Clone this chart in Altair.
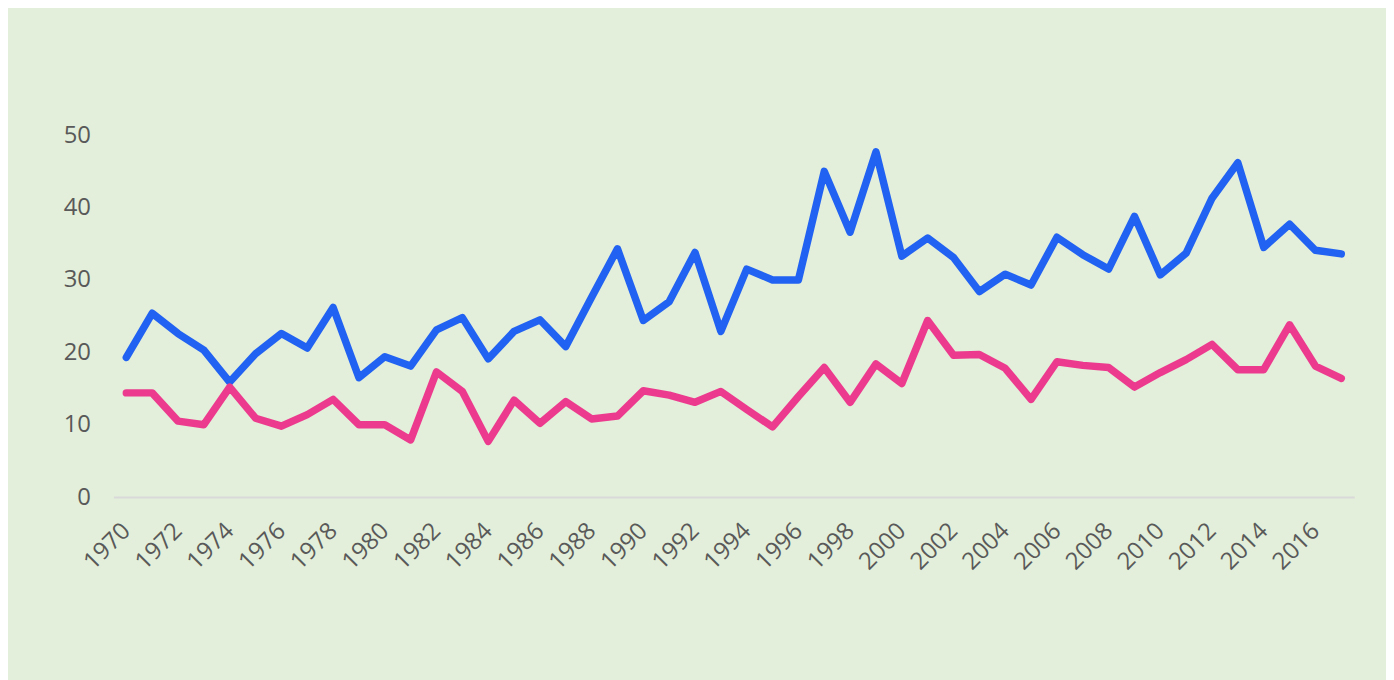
import altair as alt
import pandas as pd

years = list(range(1970, 2018))
blue = [19.3, 25.4, 22.6, 20.3, 15.9, 19.8, 22.6, 20.6, 26.2, 16.5,
        19.4, 18.1, 23.1, 24.8, 19.1, 22.9, 24.5, 20.8, 27.6, 34.3,
        24.4, 27.0, 33.8, 22.9, 31.5, 30.0, 30.0, 45.0, 36.6, 47.7,
        33.3, 35.8, 33.1, 28.4, 30.8, 29.3, 35.9, 33.5, 31.5, 38.8,
        30.7, 33.7, 41.3, 46.2, 34.5, 37.7, 34.1, 33.6]
pink = [14.4, 14.4, 10.5, 10.0, 15.2, 10.9, 9.8, 11.4, 13.5, 10.0,
        10.0, 7.9, 17.3, 14.6, 7.7, 13.4, 10.2, 13.2, 10.8, 11.2,
        14.7, 14.1, 13.1, 14.6, 12.1, 9.7, 13.9, 17.9, 13.1, 18.4,
        15.7, 24.4, 19.6, 19.7, 17.8, 13.5, 18.7, 18.2, 17.9, 15.2,
        17.2, 19.0, 21.1, 17.6, 17.6, 23.8, 18.1, 16.4]
series_names = ["Series 1", "Series 2"]
series_colors = ["#2262F2", "#EC3B8E"]
label_years = [y for y in years if y % 2 == 0]

df = pd.DataFrame({
    "year": years * 2,
    "value": blue + pink,
    "series": [series_names[0]] * len(years) + [series_names[1]] * len(years),
})

chart = alt.Chart(df).mark_line(
    strokeWidth=7.5, strokeCap="round", strokeJoin="round"
).encode(
    x=alt.X("year:O", sort=years,
            scale=alt.Scale(type="point", padding=0.5),
            axis=alt.Axis(title=None, values=label_years, labelAngle=-45,
                          labelAlign="right", labelBaseline="middle",
                          ticks=False, domain=True, domainColor="#D9D9D9",
                          domainWidth=2, labelPadding=30,
                          labelFont="Open Sans", labelFontSize=24,
                          labelColor="#595959", grid=False)),
    y=alt.Y("value:Q", scale=alt.Scale(domain=[0, 50], nice=False, zero=True),
            axis=alt.Axis(title=None, values=[0, 10, 20, 30, 40, 50],
                          ticks=False, domain=False, grid=False,
                          labelPadding=23, labelFont="Open Sans",
                          labelFontSize=24, labelColor="#595959")),
    color=alt.Color("series:N", scale=alt.Scale(domain=series_names, range=series_colors),
                    legend=None),
).properties(
    width=1248,
    height=364,
    background="#E3EFDA",
    padding={"left": 106, "top": 126, "right": 32, "bottom": 182},
    autosize=alt.AutoSizeParams(type="none"),
).configure_view(stroke=None)

chart.save("out.html", embed_options={"renderer": "svg", "actions": False})
